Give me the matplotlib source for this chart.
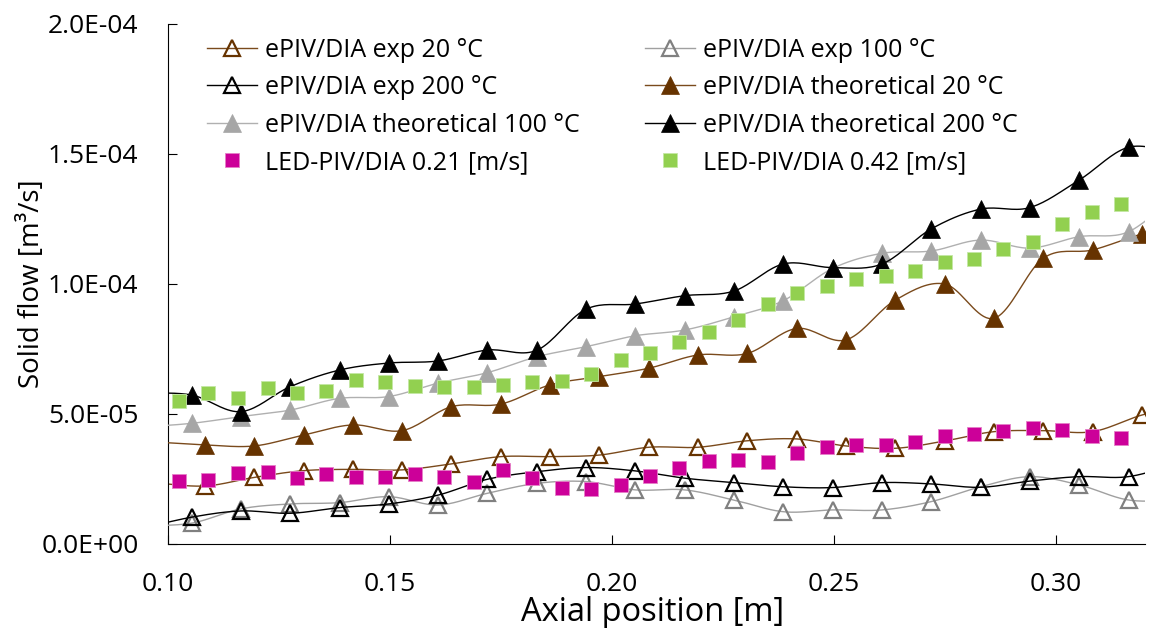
import numpy as np
import matplotlib.pyplot as plt
from matplotlib.lines import Line2D
from matplotlib.ticker import FuncFormatter

plt.rcParams['font.family'] = ['Open Sans', 'DejaVu Sans']

# axial position [m] - first and last points sit just outside the shown range
x_hot = [0.0943, 0.1054, 0.1165, 0.1276, 0.1387, 0.1498, 0.1609, 0.1720, 0.1831, 0.1942, 0.2053,
         0.2164, 0.2275, 0.2386, 0.2497, 0.2608, 0.2719, 0.2830, 0.2941, 0.3052, 0.3163, 0.3274]
x_cold = [0.0973, 0.1084, 0.1195, 0.1306, 0.1417, 0.1528, 0.1639, 0.1750, 0.1861, 0.1972, 0.2083,
          0.2194, 0.2305, 0.2416, 0.2527, 0.2638, 0.2749, 0.2860, 0.2971, 0.3082, 0.3193, 0.3304]
x_led = [0.1026, 0.1092, 0.1159, 0.1225, 0.1291, 0.1357, 0.1424, 0.1490, 0.1556, 0.1622, 0.1689,
         0.1755, 0.1821, 0.1887, 0.1954, 0.2020, 0.2086, 0.2152, 0.2219, 0.2285, 0.2351, 0.2417,
         0.2484, 0.2550, 0.2616, 0.2682, 0.2749, 0.2815, 0.2881, 0.2947, 0.3014, 0.3080, 0.3146]

# solid flow, in 1e-5 m3/s
exp_20 = [2.35, 2.23, 2.56, 2.82, 2.87, 2.85, 3.08, 3.36, 3.36, 3.42, 3.72, 3.72, 3.97, 4.04,
          3.77, 3.68, 3.96, 4.32, 4.36, 4.32, 4.96, 5.40]
exp_100 = [0.70, 0.80, 1.35, 1.54, 1.59, 1.82, 1.50, 1.95, 2.33, 2.40, 2.08, 2.08, 1.69, 1.24,
           1.31, 1.31, 1.63, 2.20, 2.59, 2.27, 1.69, 1.69]
exp_200 = [0.60, 1.03, 1.27, 1.18, 1.40, 1.54, 1.88, 2.49, 2.78, 2.94, 2.81, 2.53, 2.36, 2.20,
           2.17, 2.36, 2.31, 2.18, 2.42, 2.59, 2.59, 3.10]
theo_20 = [3.92, 3.81, 3.77, 4.19, 4.58, 4.36, 5.28, 5.38, 6.12, 6.44, 6.76, 7.27, 7.33, 8.29,
           7.85, 9.38, 10.00, 8.68, 10.99, 11.31, 11.92, 12.30]
theo_100 = [4.50, 4.64, 4.90, 5.15, 5.60, 5.67, 6.19, 6.59, 7.20, 7.59, 8.01, 8.23, 8.74, 9.36,
            10.60, 11.18, 11.27, 11.69, 11.38, 11.82, 12.01, 13.50]
theo_200 = [5.80, 5.73, 5.09, 6.05, 6.69, 6.96, 7.04, 7.46, 7.45, 9.03, 9.23, 9.55, 9.73, 10.77,
            10.63, 10.77, 12.12, 12.88, 12.94, 14.00, 15.26, 15.00]
led_021 = [2.43, 2.46, 2.72, 2.76, 2.53, 2.68, 2.56, 2.59, 2.68, 2.56, 2.40, 2.85, 2.53, 2.14,
           2.10, 2.27, 2.62, 2.91, 3.19, 3.23, 3.17, 3.51, 3.72, 3.81, 3.81, 3.91, 4.15, 4.23,
           4.36, 4.47, 4.38, 4.15, 4.07]
led_042 = [5.51, 5.79, 5.60, 6.00, 5.82, 5.90, 6.31, 6.24, 6.09, 6.05, 6.05, 6.12, 6.22, 6.28,
           6.53, 7.08, 7.36, 7.78, 8.17, 8.62, 9.22, 9.64, 9.94, 10.18, 10.32, 10.50, 10.83,
           10.96, 11.33, 11.63, 12.29, 12.78, 13.07]


def smooth(x, y, n=20):
    # bezier curve through the points, like the excel "smoothed line"
    p = np.column_stack([x, y]).astype(float)
    t = np.linspace(0, 1, n)[:, None]
    out = []
    for i in range(len(p) - 1):
        p0 = p[max(i - 1, 0)]
        p1 = p[i]
        p2 = p[i + 1]
        p3 = p[min(i + 2, len(p) - 1)]
        c1 = p1 + (p2 - p0) / 6
        c2 = p2 - (p3 - p1) / 6
        seg = (1 - t)**3 * p1 + 3 * (1 - t)**2 * t * c1 + 3 * (1 - t) * t**2 * c2 + t**3 * p2
        out.append(seg)
    out = np.vstack(out)
    return out[:, 0], out[:, 1]


fig = plt.figure(figsize=(11.58, 6.28), dpi=100)
ax = fig.add_axes([0.1447, 0.1338, 0.8441, 0.828])

brown = '#663300'
series = [
    # label, x, y, line colour, marker kwargs
    ('ePIV/DIA exp 20 °C', x_cold, exp_20, '#7a4a1c',
     dict(marker='^', ms=12, mfc='none', mec=brown, mew=1.6)),
    ('ePIV/DIA exp 100 °C', x_hot, exp_100, '#a0a0a0',
     dict(marker='^', ms=12, mfc='none', mec='#808080', mew=1.6)),
    ('ePIV/DIA exp 200 °C', x_hot, exp_200, 'black',
     dict(marker='^', ms=12, mfc='none', mec='black', mew=1.6)),
    ('ePIV/DIA theoretical 20 °C', x_cold, theo_20, '#7a4a1c',
     dict(marker='^', ms=13, mfc=brown, mec=brown, mew=0.5)),
    ('ePIV/DIA theoretical 100 °C', x_hot, theo_100, '#b0b0b0',
     dict(marker='^', ms=13, mfc='#a6a6a6', mec='#a6a6a6', mew=0.5)),
    ('ePIV/DIA theoretical 200 °C', x_hot, theo_200, 'black',
     dict(marker='^', ms=13, mfc='black', mec='black', mew=0.5)),
]

handles = {}
z = 2
for label, x, y, lc, mk in series:
    y = np.array(y) * 1e-5
    xs, ys = smooth(x, y)
    ax.plot(xs, ys, color=lc, lw=1.0, zorder=z)
    ax.plot(x, y, ls='none', zorder=z + 0.5, **mk)
    handles[label] = Line2D([], [], color=lc, lw=1.0, **mk)
    z += 1

for label, y, fc, ec in [('LED-PIV/DIA 0.21 [m/s]', led_021, '#cc0099', '#e680c8'),
                         ('LED-PIV/DIA 0.42 [m/s]', led_042, '#92d050', '#c4e8a4')]:
    mk = dict(marker='s', ms=10, mfc=fc, mec=ec, mew=0.6)
    ax.plot(x_led, np.array(y) * 1e-5, ls='none', zorder=z, **mk)
    handles[label] = Line2D([], [], ls='none', **mk)
    z += 1

ax.set_xlim(0.10, 0.32)
ax.set_ylim(0, 2e-4)
ax.set_xticks([0.10, 0.15, 0.20, 0.25, 0.30])
ax.set_yticks([0, 5e-5, 1e-4, 1.5e-4, 2e-4])
ax.xaxis.set_major_formatter(FuncFormatter(lambda v, p: '%.2f' % v))
ax.yaxis.set_major_formatter(FuncFormatter(lambda v, p: '%.1E' % v))
ax.tick_params(direction='in', length=6.5, width=0.8, labelsize=19)
ax.tick_params(axis='x', pad=20)
ax.tick_params(axis='y', pad=21)
for s in ['top', 'right']:
    ax.spines[s].set_visible(False)
for s in ['left', 'bottom']:
    ax.spines[s].set_linewidth(0.8)

ax.set_xlabel('Axial position [m]', fontsize=23.5, va='center')
ax.xaxis.set_label_coords(0.4957, -0.131)
ax.set_ylabel('Solid flow [m³/s]', fontsize=20, va='center')
ax.yaxis.set_label_coords(-0.139, 0.5)

col1 = ['ePIV/DIA exp 20 °C', 'ePIV/DIA exp 200 °C', 'ePIV/DIA theoretical 100 °C',
        'LED-PIV/DIA 0.21 [m/s]']
col2 = ['ePIV/DIA exp 100 °C', 'ePIV/DIA theoretical 20 °C', 'ePIV/DIA theoretical 200 °C',
        'LED-PIV/DIA 0.42 [m/s]']
leg_kw = dict(loc='upper left', frameon=False, fontsize=18, borderpad=0, borderaxespad=0,
              handlelength=2.0, handletextpad=0.3, labelspacing=0.5, numpoints=1,
              bbox_transform=fig.transFigure)
leg1 = ax.legend([handles[k] for k in col1], col1, bbox_to_anchor=(0.1788, 0.94), **leg_kw)
ax.add_artist(leg1)
ax.legend([handles[k] for k in col2], col2, bbox_to_anchor=(0.557, 0.94), **leg_kw)

fig.savefig('out.png', dpi=100)
